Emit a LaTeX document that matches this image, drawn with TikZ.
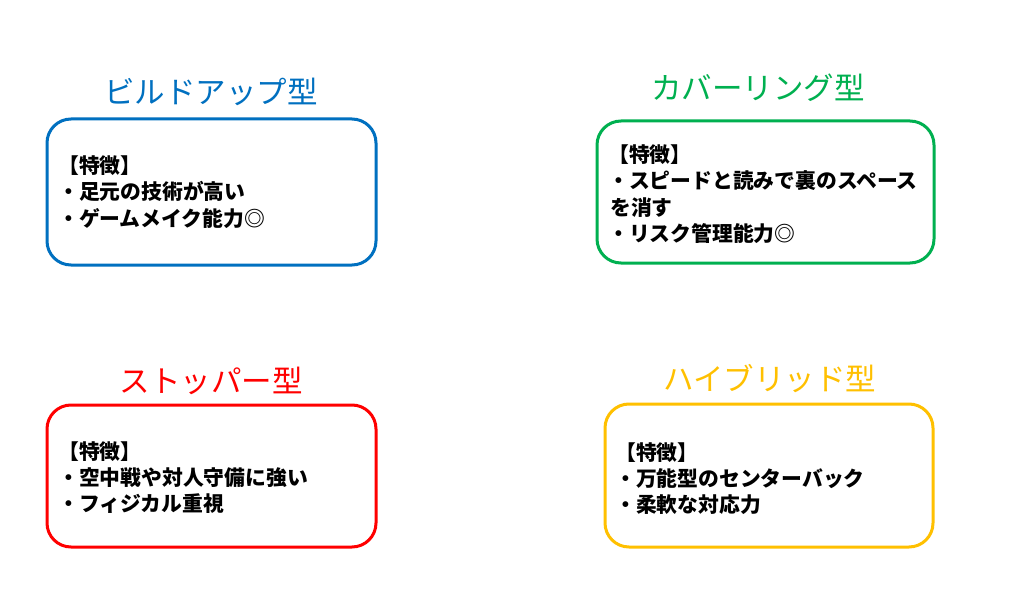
\documentclass[tikz,border=0pt]{standalone}
\usepackage{fontspec}
\newfontfamily\cjk{Noto Sans CJK JP}
\definecolor{cblue}{HTML}{0070C0}
\definecolor{cgreen}{HTML}{00B050}
\definecolor{cred}{HTML}{FF0000}
\definecolor{cyellow}{HTML}{FFC000}
\begin{document}
\begin{tikzpicture}[x=1pt,y=1pt,
  card/.style={draw=#1, line width=3pt, rounded corners=24pt},
  ttl/.style={text=#1, font=\cjk\fontsize{30.5}{33}\selectfont, anchor=base, inner sep=0pt},
  body/.style={font=\cjk\bfseries\fontsize{20.8}{26}\selectfont, anchor=base west, inner sep=0pt}]
\useasboundingbox[fill=white] (0,0) rectangle (1024,614);
% Blue
\draw[card=cblue] (47,495) rectangle (376,349);
\node[ttl=cblue] (t1) at (211,510) {ビルドアップ型};
\node[body] (b1a) at (58,440) {【特徴】};
\node[body] (b1b) at (58,414) {・足元の技術が高い};
\node[body] (b1c) at (58,388) {・ゲームメイク能力◎};
% Green
\draw[card=cgreen] (597,493) rectangle (934,351);
\node[ttl=cgreen] (t2) at (758,514) {カバーリング型};
\node[body] (b2a) at (608,451) {【特徴】};
\node[body] (b2b) at (608,425) {・スピードと読みで裏のスペース};
\node[body] (b2c) at (610,399) {を消す};
\node[body] (b2d) at (608,373) {・リスク管理能力◎};
% Red
\draw[card=cred] (47,209) rectangle (376,67);
\node[ttl=cred] (t3) at (211,222) {ストッパー型};
\node[body] (b3a) at (58,155) {【特徴】};
\node[body] (b3b) at (58,129) {・空中戦や対人守備に強い};
\node[body] (b3c) at (58,103) {・フィジカル重視};
% Yellow
\draw[card=cyellow] (605,210) rectangle (933,67);
\node[ttl=cyellow] (t4) at (770,224) {ハイブリッド型};
\node[body] (b4a) at (615,154) {【特徴】};
\node[body] (b4b) at (615,128) {・万能型のセンターバック};
\node[body] (b4c) at (615,102) {・柔軟な対応力};
\end{tikzpicture}
\end{document}
